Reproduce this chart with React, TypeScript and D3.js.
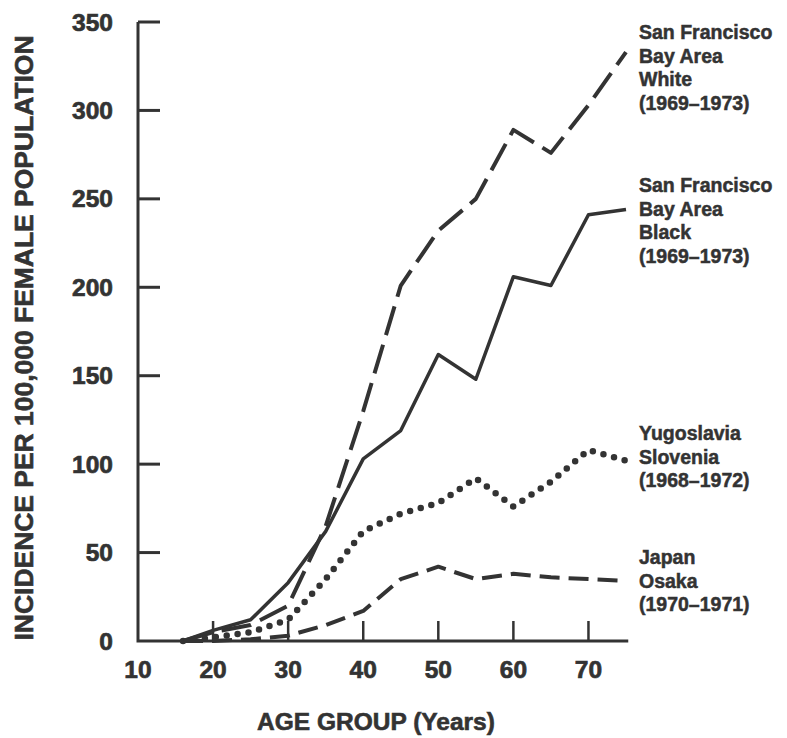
import React from 'react';
import * as d3 from 'd3';

const ages = [16, 20, 25, 30, 35, 40, 45, 50, 55, 60, 65, 70, 75];
const sfWhite = [0, 5, 9, 20, 65, 130, 201, 232, 250, 289, 276, 303, 333];
const sfBlack = [0, 6, 12, 33, 62, 103, 119, 162, 148, 206, 201, 241, 244];
const slovenia = [0, 2, 5, 12, 35, 62, 72, 78, 92, 76, 90, 108, 102];
const osaka = [0, 0, 1, 3, 9, 17, 35, 42, 35, 38, 36, 35, 34];

const yTicks = [0, 50, 100, 150, 200, 250, 300, 350];
const xTicks = [10, 20, 30, 40, 50, 60, 70];

const labels = [
  { lines: ['San Francisco', 'Bay Area', 'White', '(1969–1973)'], top: 39 },
  { lines: ['San Francisco', 'Bay Area', 'Black', '(1969–1973)'], top: 192 },
  { lines: ['Yugoslavia', 'Slovenia', '(1968–1972)'], top: 440 },
  { lines: ['Japan', 'Osaka', '(1970–1971)'], top: 564 },
];

const ink = '#333';
const font = '"Liberation Sans", Arial, sans-serif';

export default function App() {
  const width = 787;
  const height = 738;
  const x = d3.scaleLinear().domain([10, 75]).range([138, 626]);
  const y = d3.scaleLinear().domain([0, 350]).range([641, 22]);

  const line = d3
    .line<number>()
    .x((_, i) => x(ages[i]))
    .y((d) => y(d));

  const series = [
    { data: sfWhite, dash: '30 10', w: 4, cap: 'butt' },
    { data: sfBlack, dash: null, w: 3.5, cap: 'butt' },
    { data: slovenia, dash: '0 11', w: 6.5, cap: 'round' },
    { data: osaka, dash: '20 9', w: 4, cap: 'butt' },
  ];

  return (
    <svg
      width={width}
      height={height}
      style={{ position: 'absolute', left: 0, top: 0, background: '#fff' }}
    >
      <g fontFamily={font} fontWeight="bold" fill={ink}>
        {/* axes */}
        <path
          d={`M${x(10)},${y(350)}V${y(0)}H${x(75.3)}`}
          fill="none"
          stroke={ink}
          strokeWidth={3}
        />
        {yTicks.map((t) => (
          <g key={'y' + t}>
            {t > 0 && (
              <line x1={x(10)} x2={x(10) + 22} y1={y(t)} y2={y(t)} stroke={ink} strokeWidth={3} />
            )}
            <text x={113} y={y(t) + 8.5} textAnchor="end" fontSize={24.5} stroke={ink} strokeWidth={0.7}>
              {t}
            </text>
          </g>
        ))}
        {xTicks.map((t) => (
          <g key={'x' + t}>
            {t > 10 && (
              <line x1={x(t)} x2={x(t)} y1={y(0)} y2={y(0) - 20} stroke={ink} strokeWidth={2.5} />
            )}
            <text x={x(t)} y={678} textAnchor="middle" fontSize={24.5} stroke={ink} strokeWidth={0.7}>
              {t}
            </text>
          </g>
        ))}
        <text x={376} y={730} textAnchor="middle" fontSize={24.5} stroke={ink} strokeWidth={0.6}>
          AGE GROUP (Years)
        </text>
        <text
          transform={`translate(33,${338}) rotate(-90)`}
          textAnchor="middle"
          fontSize={25}
          textLength={605}
          lengthAdjust="spacingAndGlyphs"
          stroke={ink}
          strokeWidth={0.6}
        >
          INCIDENCE PER 100,000 FEMALE POPULATION
        </text>

        {/* series */}
        {series.map((s, i) => (
          <path
            key={i}
            d={line(s.data) || ''}
            fill="none"
            stroke={ink}
            strokeWidth={s.w}
            strokeDasharray={s.dash || undefined}
            strokeLinecap={s.cap as any}
            strokeLinejoin="round"
          />
        ))}

        {/* labels */}
        {labels.map((l, i) => (
          <text key={i} x={639} y={l.top} fontSize={19.5} stroke={ink} strokeWidth={0.5}>
            {l.lines.map((s, j) => (
              <tspan key={j} x={639} y={l.top + j * 23.6}>
                {s}
              </tspan>
            ))}
          </text>
        ))}
      </g>
    </svg>
  );
}
